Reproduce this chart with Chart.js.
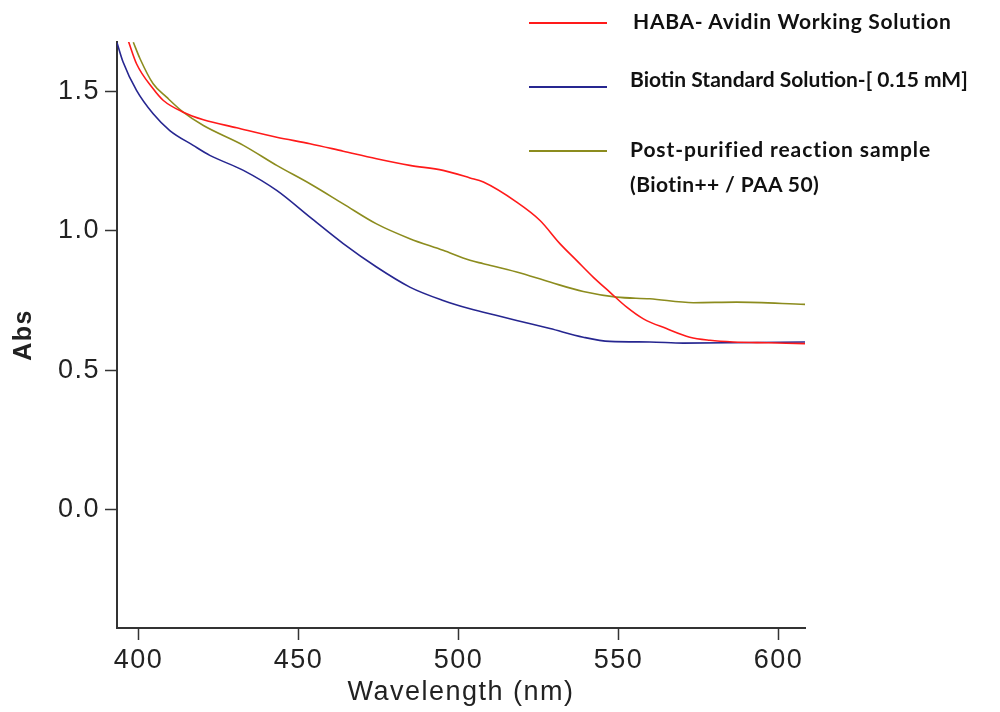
<!DOCTYPE html>
<html>
<head>
<meta charset="utf-8">
<script src="https://cdn.jsdelivr.net/npm/chart.js@4"></script>
<style>
  body { margin: 0; background: #fff; }
  #wrap { position: relative; width: 1000px; height: 712px; }
  .leg-line { position: absolute; height: 2px; }
  .leg-text {
    position: absolute; font-family: Lato, "Open Sans", sans-serif; font-weight: bold;
    font-size: 21px; line-height: 35px; color: #111; white-space: nowrap;
  }
</style>
</head>
<body>
<div id="wrap">
  <canvas id="c" width="1000" height="712"></canvas>
</div>
<script>
// values (wavelength in nm, absorbance)
const habaWl = [396.8, 399.4, 404.6, 407.8, 414.0, 420.3, 430.7, 443.2, 453.6, 464.0, 474.4, 484.8, 495.2, 503.6, 507.8, 518.2, 525.5, 531.7, 536.9, 542.1, 547.3, 552.6, 557.8, 565.0, 572.3, 578.6, 585.9, 597.0, 608.3];
const habaAbs = [1.683, 1.600, 1.510, 1.468, 1.426, 1.399, 1.370, 1.336, 1.313, 1.286, 1.259, 1.235, 1.217, 1.190, 1.175, 1.103, 1.037, 0.954, 0.894, 0.834, 0.780, 0.726, 0.684, 0.649, 0.618, 0.607, 0.601, 0.598, 0.595];

const biotinWl = [393.3, 395.2, 399.4, 404.6, 409.8, 417.1, 422.3, 432.8, 443.2, 453.6, 464.0, 474.4, 484.8, 495.2, 503.6, 507.8, 518.2, 528.6, 539.0, 547.3, 559.8, 570.3, 585.0, 608.3];
const biotinAbs = [1.675, 1.606, 1.504, 1.420, 1.360, 1.307, 1.271, 1.217, 1.145, 1.049, 0.954, 0.870, 0.798, 0.750, 0.720, 0.708, 0.678, 0.649, 0.618, 0.603, 0.601, 0.597, 0.598, 0.601];

const postWl = [398.4, 400.5, 404.6, 408.8, 414.0, 420.3, 432.8, 443.2, 453.6, 464.0, 474.4, 484.8, 495.2, 503.6, 507.8, 518.2, 528.6, 539.0, 549.4, 559.8, 573.4, 586.9, 608.3];
const postAbs = [1.677, 1.618, 1.528, 1.480, 1.426, 1.378, 1.307, 1.235, 1.169, 1.097, 1.025, 0.972, 0.930, 0.894, 0.882, 0.852, 0.816, 0.782, 0.762, 0.756, 0.742, 0.744, 0.736];

const seriesNames = ['HABA- Avidin Working Solution', 'Biotin Standard Solution-[ 0.15 mM]', 'Post-purified reaction sample\n(Biotin++ / PAA 50)'];
const seriesColors = ['#ff1a1a', '#262690', '#8c8c1e'];

const xTicks = [400, 450, 500, 550, 600];
const yTicks = [0.0, 0.5, 1.0, 1.5];

const toPoints = (xs, ys) => xs.map((x, i) => ({ x: x, y: ys[i] }));

const lineSets = [
  toPoints(habaWl, habaAbs),
  toPoints(biotinWl, biotinAbs),
  toPoints(postWl, postAbs)
].map((pts, i) => ({
  label: seriesNames[i],
  data: pts,
  borderColor: seriesColors[i],
  borderWidth: 1.6,
  pointRadius: 0,
  cubicInterpolationMode: 'monotone',
  fill: false
}));

const axisColor = '#333';
const fontFam = '"Liberation Sans", Arial, sans-serif';
const tickFont = { family: fontFam, size: 27 };

// the original's axis text is spaced out a little
const spacing = {
  id: 'spacing',
  beforeUpdate: (chart) => { chart.ctx.letterSpacing = '1.5px'; }
};

new Chart(document.getElementById('c'), {
  type: 'line',
  data: { datasets: lineSets },
  plugins: [spacing],
  options: {
    responsive: false,
    animation: false,
    layout: { padding: { left: 0, top: 42, right: 195, bottom: 0 } },
    plugins: { legend: { display: false }, tooltip: { enabled: false } },
    scales: {
      x: {
        type: 'linear',
        min: 393.3,
        max: 608.3,
        afterFit: (s) => { s.height = 84; },
        afterBuildTicks: (s) => { s.ticks = xTicks.map(v => ({ value: v })); },
        grid: { drawOnChartArea: false, tickLength: 12, tickWidth: 1.5, tickColor: axisColor },
        border: { color: axisColor, width: 2 },
        ticks: { color: '#222', font: tickFont, padding: 4, maxRotation: 0 },
        title: { display: true, text: 'Wavelength (nm)', color: '#222', font: tickFont, padding: { top: 0, bottom: 3 } }
      },
      y: {
        min: -0.426,
        max: 1.678,
        afterFit: (s) => { s.width = 117; },
        afterBuildTicks: (s) => { s.ticks = yTicks.map(v => ({ value: v })); },
        grid: { drawOnChartArea: false, tickLength: 12, tickWidth: 1.5, tickColor: axisColor },
        border: { color: axisColor, width: 2 },
        ticks: { color: '#222', font: tickFont, padding: 5, callback: (v) => v.toFixed(1) },
        title: { display: true, text: 'Abs', color: '#222', font: { family: fontFam, size: 25, weight: 'bold' }, padding: { top: 9, bottom: 0 } }
      }
    }
  }
});

// legend drawn as page text, outside the library
const wrap = document.getElementById('wrap');
const legLineY = [23, 87, 151];
const legTextTop = [3, 61, 131];
const legTextLeft = [633, 630, 630];
const legSpacing = [['0.7px'], ['0px'], ['0.9px', '0.4px']];
seriesNames.forEach((name, i) => {
  const ln = document.createElement('div');
  ln.className = 'leg-line';
  ln.style.left = '529px';
  ln.style.width = '78px';
  ln.style.top = (legLineY[i] - 1) + 'px';
  ln.style.background = seriesColors[i];
  wrap.appendChild(ln);
  const tx = document.createElement('div');
  tx.className = 'leg-text';
  tx.style.left = legTextLeft[i] + 'px';
  tx.style.top = legTextTop[i] + 'px';
  name.split('\n').forEach((part, j) => {
    const row = document.createElement('div');
    row.textContent = part;
    row.style.letterSpacing = legSpacing[i][j];
    tx.appendChild(row);
  });
  wrap.appendChild(tx);
});
</script>
</body>
</html>
